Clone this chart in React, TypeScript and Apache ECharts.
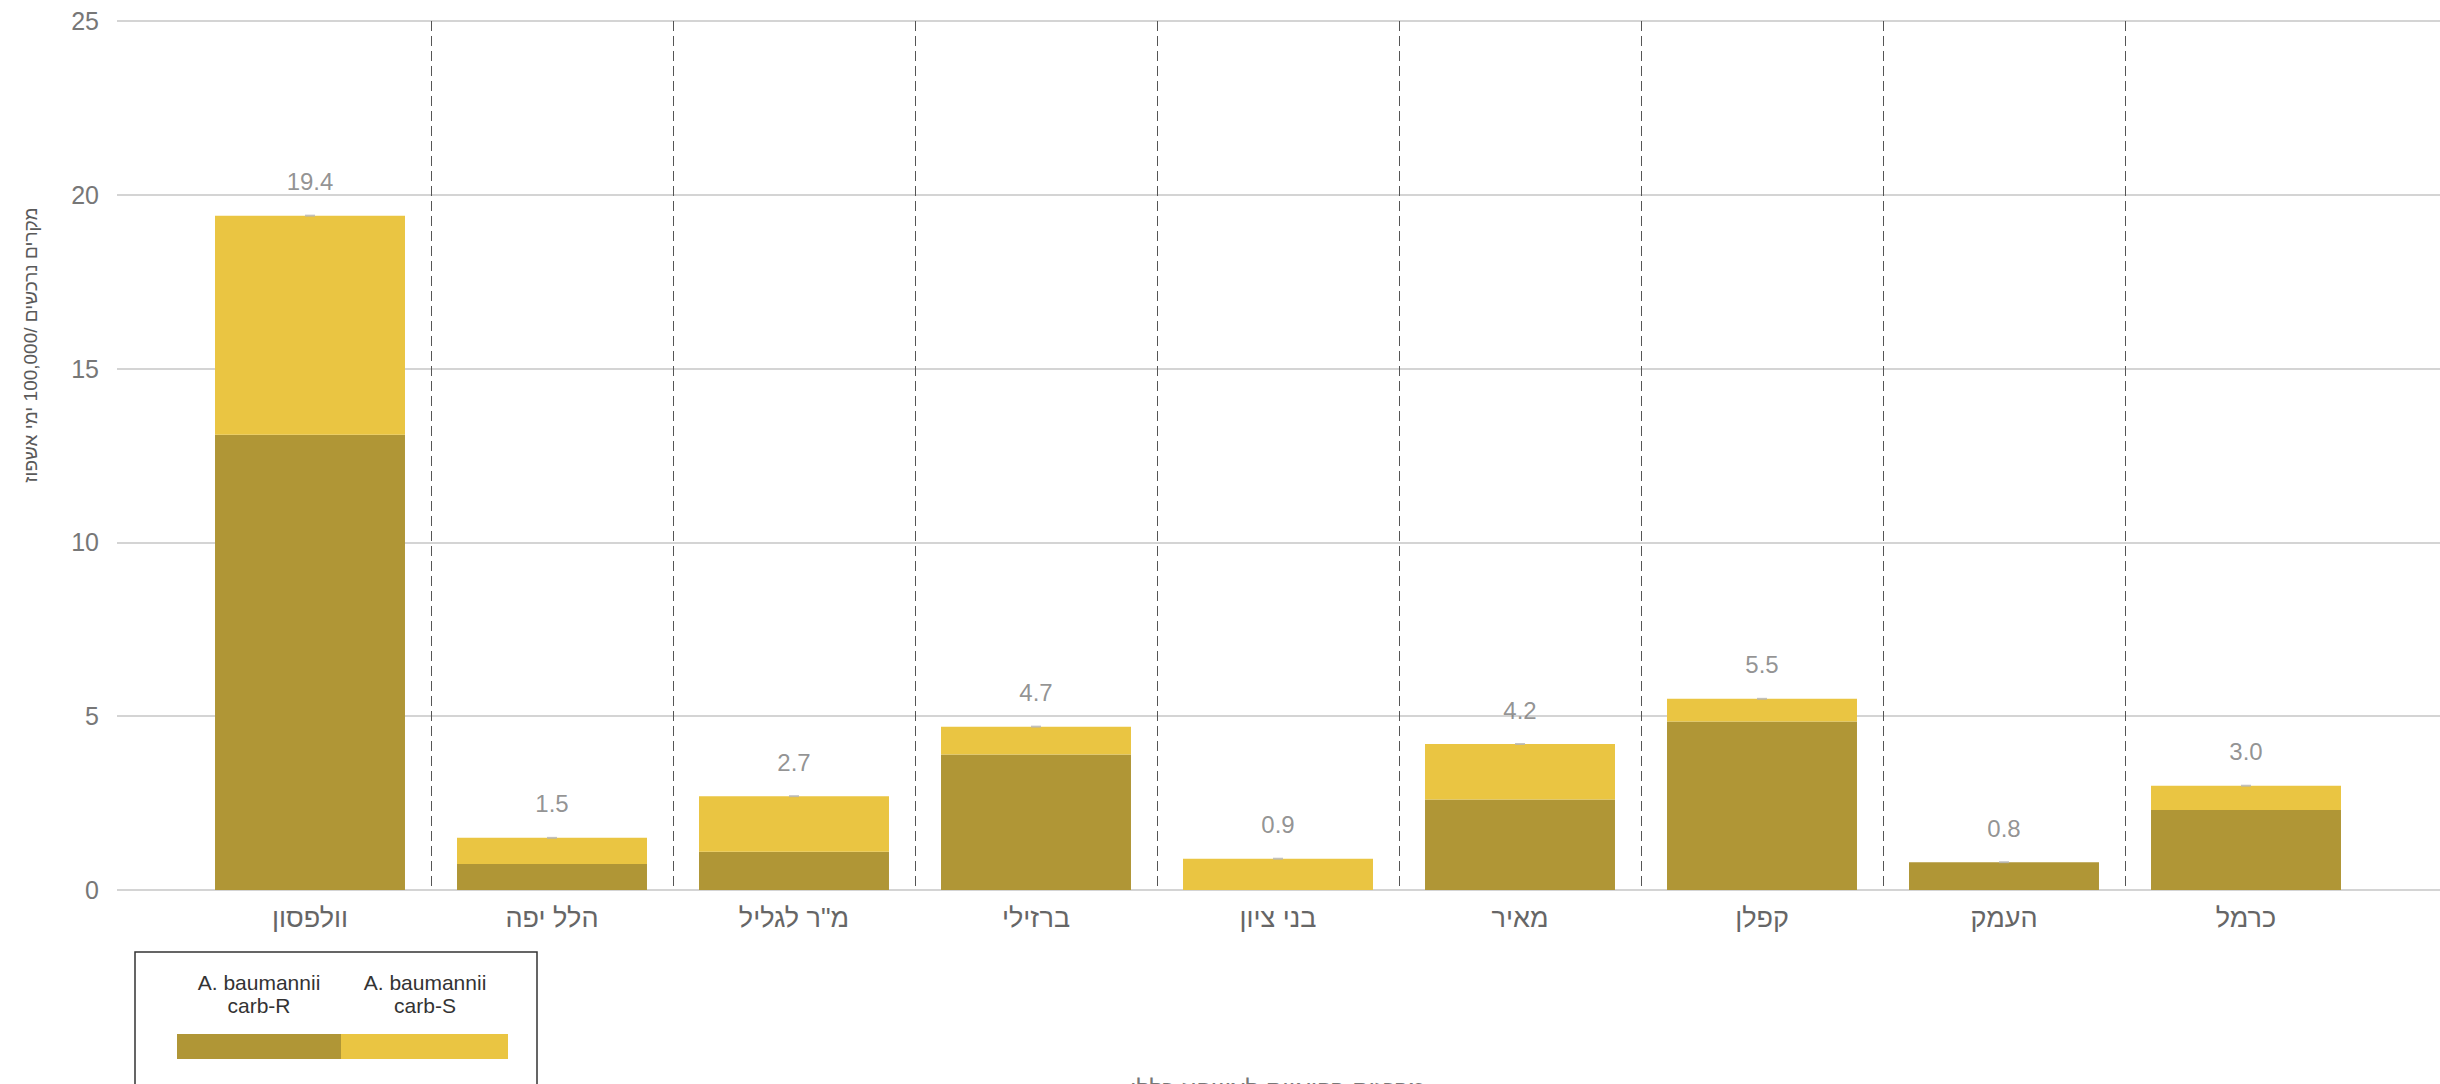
import React, { useEffect, useRef } from "react";
import * as echarts from "echarts";

const categories = ["וולפסון", "הלל יפה", 'מ"ר לגליל', "ברזילי", "בני ציון", "מאיר", "קפלן", "העמק", "כרמל"];
const carbR = [13.1, 0.75, 1.1, 3.9, 0, 2.6, 4.85, 0.8, 2.3];
const carbS = [6.3, 0.75, 1.6, 0.8, 0.9, 1.6, 0.65, 0, 0.7];
const totals = [19.4, 1.5, 2.7, 4.7, 0.9, 4.2, 5.5, 0.8, 3.0];
const seriesNames = ["A. baumannii\ncarb-R", "A. baumannii\ncarb-S"];
const yTicks = [0, 5, 10, 15, 20, 25];
const yTitle = "מקרים נרכשים /100,000 ימי אשפוז";
const xTitle = "מרכזים רפואיים לאשפוז כללי";

const DARK = "#B09636";
const YELLOW = "#EAC542";
const FONT = "'Liberation Sans', Arial, sans-serif";

export default function App() {
  const ref = useRef<HTMLDivElement>(null);
  useEffect(() => {
    document.body.style.margin = "0";
    const chart = echarts.init(ref.current!, undefined, { renderer: "svg" });
    const yMin = yTicks[0];
    const yMax = yTicks[yTicks.length - 1];
    const yInt = yTicks[1] - yTicks[0];
    chart.setOption({
      animation: false,
      backgroundColor: "#ffffff",
      textStyle: { fontFamily: FONT },
      grid: [
        { left: 117, right: 0, top: 21, bottom: 194, outerBoundsMode: "none", containLabel: false },
        { left: 189, right: 73, top: 21, bottom: 194, outerBoundsMode: "none", containLabel: false },
      ],
      xAxis: [
        { type: "value", gridIndex: 0, show: false, min: 0, max: 1 },
        {
          type: "category",
          gridIndex: 1,
          data: categories,
          name: xTitle,
          nameLocation: "middle",
          nameGap: 186,
          nameTextStyle: { fontSize: 25, color: "#777", fontFamily: FONT },
          axisLine: { show: false },
          axisTick: { show: false },
          axisLabel: { fontSize: 27, color: "#666", margin: 14, fontFamily: FONT },
          splitLine: {
            show: true,
            showMinLine: false,
            showMaxLine: false,
            lineStyle: { color: "#555", type: [10, 5], width: 1 },
          },
        },
      ],
      yAxis: [
        {
          type: "value",
          gridIndex: 0,
          min: yMin,
          max: yMax,
          interval: yInt,
          axisLine: { show: false },
          axisTick: { show: false },
          axisLabel: { fontSize: 25, color: "#777", margin: 18, fontFamily: FONT },
          splitLine: { show: true, lineStyle: { color: "#d4d4d4", width: 2 } },
        },
        {
          type: "value",
          gridIndex: 1,
          min: yMin,
          max: yMax,
          interval: yInt,
          show: false,
          splitLine: { show: false },
        },
      ],
      series: [
        {
          name: seriesNames[0],
          type: "bar",
          stack: "total",
          xAxisIndex: 1,
          yAxisIndex: 1,
          barWidth: "78.5%",
          data: carbR,
          itemStyle: { color: DARK },
        },
        {
          name: seriesNames[1],
          type: "bar",
          stack: "total",
          xAxisIndex: 1,
          yAxisIndex: 1,
          barWidth: "78.5%",
          data: carbS,
          itemStyle: { color: YELLOW },
        },
        {
          name: "total",
          type: "scatter",
          xAxisIndex: 1,
          yAxisIndex: 1,
          data: totals,
          symbol: "rect",
          symbolSize: [10, 2],
          itemStyle: { color: "#b5b5b5" },
          z: 5,
          label: {
            show: true,
            position: "top",
            distance: 21,
            fontSize: 24,
            color: "#777",
            fontFamily: FONT,
            formatter: (p: any) => Number(p.value).toFixed(1),
          },
        },
      ],
      graphic: [
        {
          type: "text",
          x: 30,
          y: 345,
          rotation: Math.PI / 2,
          style: {
            text: yTitle,
            fontSize: 19,
            fill: "#5a5a5a",
            fontFamily: FONT,
            align: "center",
            verticalAlign: "middle",
          },
        },
        {
          type: "rect",
          shape: { x: 135, y: 952, width: 402, height: 160 },
          style: { fill: "#fff", stroke: "#333", lineWidth: 1.5 },
          z: 10,
        },
        {
          type: "text",
          x: 259,
          y: 994,
          style: {
            text: seriesNames[0],
            fontSize: 21,
            lineHeight: 23,
            fill: "#333",
            fontFamily: FONT,
            align: "center",
            verticalAlign: "middle",
          },
          z: 11,
        },
        {
          type: "text",
          x: 425,
          y: 994,
          style: {
            text: seriesNames[1],
            fontSize: 21,
            lineHeight: 23,
            fill: "#333",
            fontFamily: FONT,
            align: "center",
            verticalAlign: "middle",
          },
          z: 11,
        },
        {
          type: "rect",
          shape: { x: 177, y: 1034, width: 164, height: 25 },
          style: { fill: DARK },
          z: 11,
        },
        {
          type: "rect",
          shape: { x: 341, y: 1034, width: 167, height: 25 },
          style: { fill: YELLOW },
          z: 11,
        },
      ],
    });
    return () => chart.dispose();
  }, []);
  return <div ref={ref} style={{ width: 2440, height: 1084 }} />;
}
